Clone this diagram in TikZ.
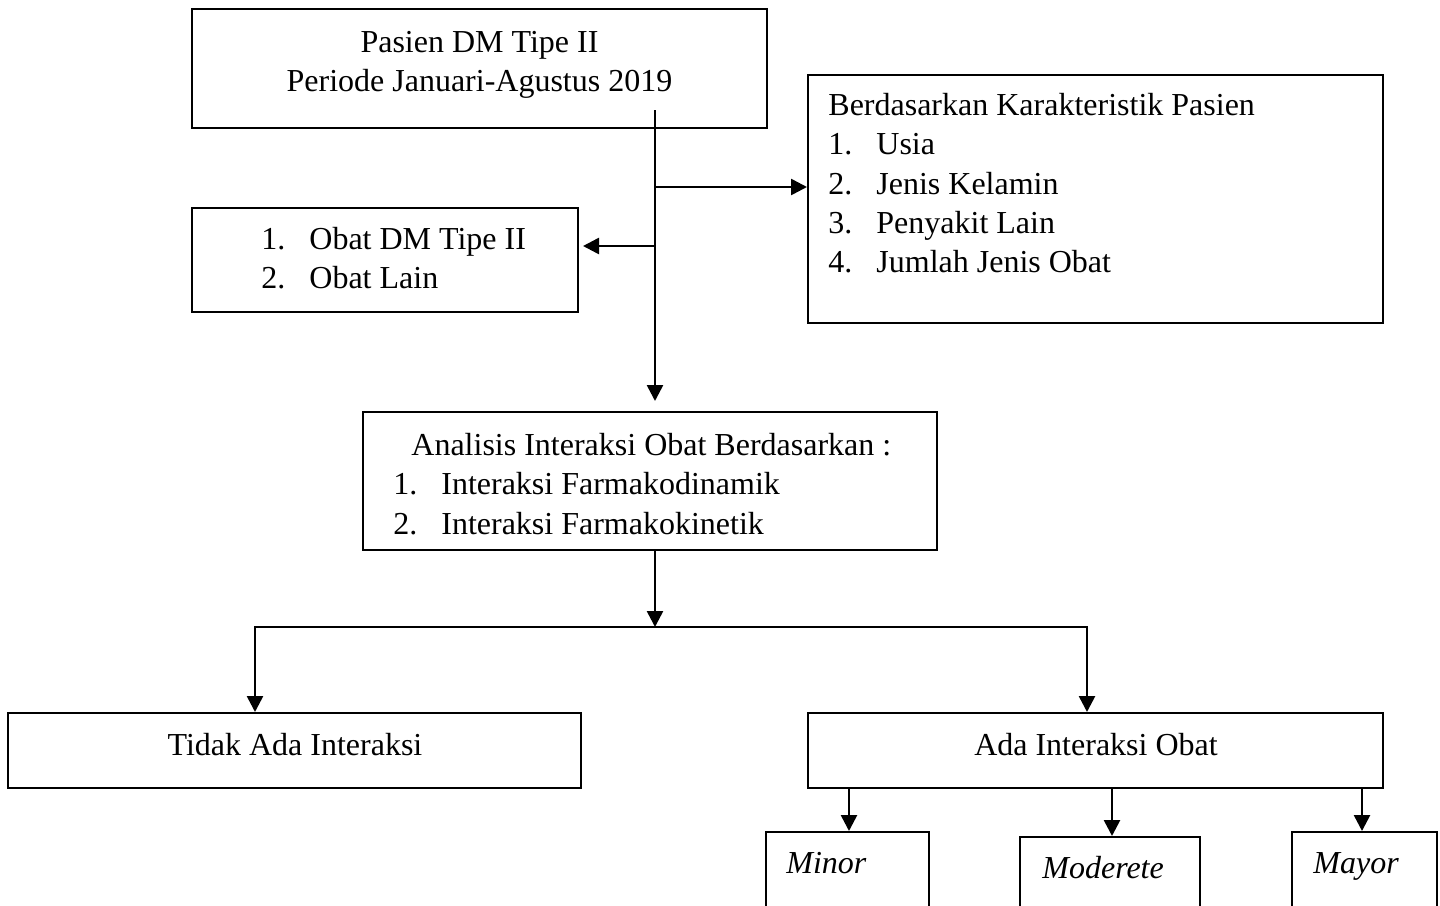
\documentclass[tikz,border=0pt]{standalone}
\usepackage{fontspec}
\setmainfont{Liberation Serif}
\usetikzlibrary{arrows.meta,fit}

\newcommand{\butir}[1]{\makebox[24pt][l]{#1}}

\tikzset{
    kotak/.style={draw, line width=1pt, inner sep=0pt},
    teks/.style={inner sep=0pt, font=\fontsize{16}{19.6}\selectfont},
    panah/.style={line width=1.3pt, -{Triangle[length=8pt,width=8pt]}}
}

\begin{document}
\begin{tikzpicture}[x=0.5pt,y=-0.5pt]
    \useasboundingbox (0,0) rectangle (1440,905);
    \clip (0,0) rectangle (1440,905);

    % kotak
    \node[kotak, fit={(192,9) (767,128)}] (pasien) {};
    \node[kotak, fit={(808,75) (1383,323)}] (karakter) {};
    \node[kotak, fit={(192,208) (578,312)}] (obat) {};
    \node[kotak, fit={(363,412) (937,550)}] (analisis) {};
    \node[kotak, fit={(8,713) (581,788)}] (tidak) {};
    \node[kotak, fit={(808,713) (1383,788)}] (ada) {};
    \node[kotak, fit={(766,832) (929,960)}] (minor) {};
    \node[kotak, fit={(1020,837) (1200,960)}] (moderete) {};
    \node[kotak, fit={(1292,832) (1437,960)}] (mayor) {};

    % teks
    \node[teks, anchor=north, align=center] (tPasien) at (479.5,31)
        {Pasien DM Tipe II\\Periode Januari-Agustus 2019};
    \node[teks, anchor=north west, align=left] (tKarakter) at (828,93)
        {Berdasarkan Karakteristik Pasien\\\butir{1.}Usia\\\butir{2.}Jenis Kelamin\\\butir{3.}Penyakit Lain\\\butir{4.}Jumlah Jenis Obat};
    \node[teks, anchor=north west, align=left] (tObat) at (261,227)
        {\butir{1.}Obat DM Tipe II\\\butir{2.}Obat Lain};
    \node[teks, anchor=north west, align=left] (tAnalisis) at (393,433)
        {\hspace*{9pt}Analisis Interaksi Obat Berdasarkan :\\\butir{1.}Interaksi Farmakodinamik\\\butir{2.}Interaksi Farmakokinetik};
    \node[teks, anchor=base] (tTidak) at (295,755) {Tidak Ada Interaksi};
    \node[teks, anchor=base] (tAda) at (1096,755) {Ada Interaksi Obat};
    \node[teks, anchor=base west] (tMinor) at (786,873) {\textit{Minor}};
    \node[teks, anchor=base west] (tModerete) at (1042,878) {\textit{Moderete}};
    \node[teks, anchor=base west] (tMayor) at (1313,873) {\textit{Mayor}};

    % panah
    \coordinate (pangkal) at (655,110);
    \coordinate (cabKanan) at (655,187);
    \coordinate (cabKiri) at (655,246);
    \draw[panah, shorten >=5pt] (pangkal) -- (pangkal |- analisis.north);
    \draw[panah] (cabKanan) -- (cabKanan -| karakter.west);
    \draw[panah, shorten >=2pt] (cabKiri) -- (cabKiri -| obat.east);

    \coordinate (simpang) at (655,627);
    \coordinate (kiriB) at (255,627);
    \coordinate (kananB) at (1087,627);
    \draw[panah] (simpang |- analisis.south) -- (simpang);
    \draw[panah] (simpang) -| (kiriB |- tidak.north);
    \draw[panah] (simpang) -| (kananB |- ada.north);

    \foreach \x/\tujuan in {849/minor, 1112/moderete, 1362/mayor}{
        \coordinate (s) at (\x,788);
        \draw[panah] (s) -- (s |- \tujuan.north);
    }
\end{tikzpicture}
\end{document}
